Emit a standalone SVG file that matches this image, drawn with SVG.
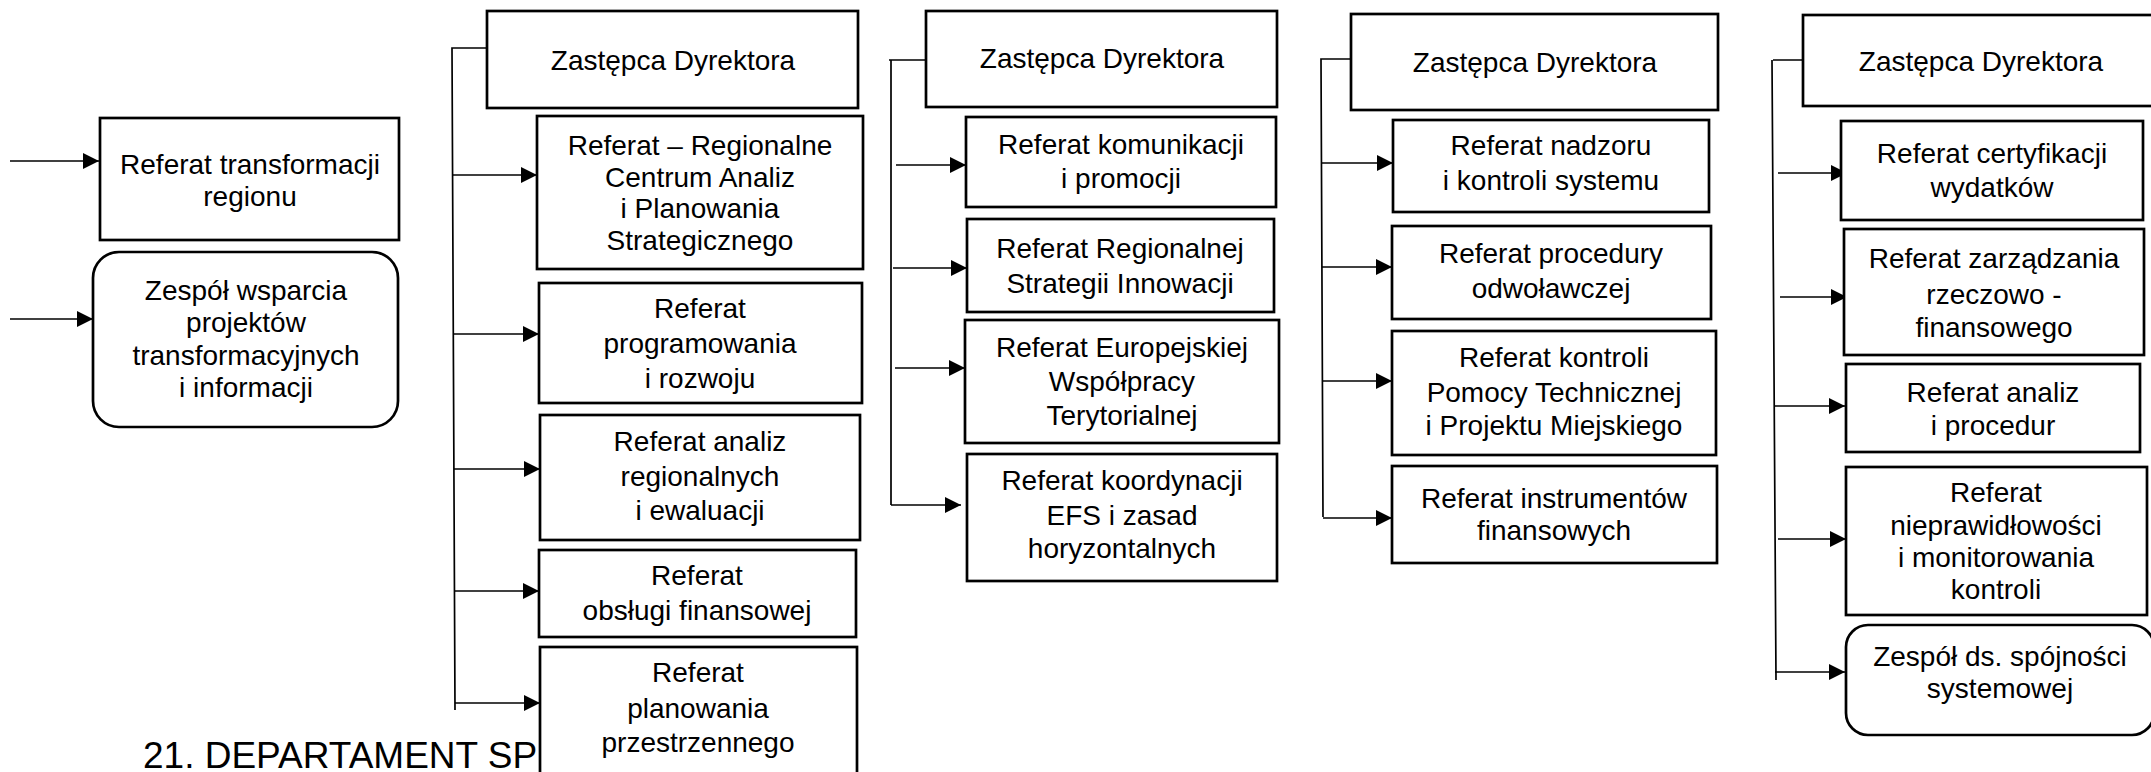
<svg xmlns="http://www.w3.org/2000/svg" width="2151" height="772" viewBox="0 0 2151 772">
<style>
.box{fill:#fff;stroke:#000;stroke-width:2.7}
.t{font-family:"Liberation Sans",Arial,sans-serif;font-size:28px;fill:#000;text-anchor:middle}
.title{font-family:"Liberation Sans",Arial,sans-serif;font-size:37px;fill:#000}
.c{fill:none;stroke:#000;stroke-width:1.7}
</style>
<defs>
<marker id="ah" markerUnits="userSpaceOnUse" markerWidth="18" markerHeight="18" refX="16" refY="8" orient="auto">
<path d="M0,0 L16,8 L0,16 Z" fill="#000"/>
</marker>
</defs>
<rect width="2151" height="772" fill="#fff"/>
<text class="title" x="143" y="768">21. DEPARTAMENT SP</text>
<g id="connectors">
<path class="c" d="M10,161 H99" marker-end="url(#ah)"/>
<path class="c" d="M10,319 H93" marker-end="url(#ah)"/>
<path class="c" d="M487,48 H452 L455,710"/>
<path class="c" d="M452,175 H537" marker-end="url(#ah)"/>
<path class="c" d="M453,334 H539" marker-end="url(#ah)"/>
<path class="c" d="M454,469 H540" marker-end="url(#ah)"/>
<path class="c" d="M455,591 H539" marker-end="url(#ah)"/>
<path class="c" d="M455,703 H540" marker-end="url(#ah)"/>
<path class="c" d="M926,60 H889 M891,60 V505"/>
<path class="c" d="M896,165 H966" marker-end="url(#ah)"/>
<path class="c" d="M893,268 H967" marker-end="url(#ah)"/>
<path class="c" d="M895,368 H965" marker-end="url(#ah)"/>
<path class="c" d="M891,505 H961" marker-end="url(#ah)"/>
<path class="c" d="M1351,59 H1321 L1323,517"/>
<path class="c" d="M1321,163 H1393" marker-end="url(#ah)"/>
<path class="c" d="M1322,267 H1392" marker-end="url(#ah)"/>
<path class="c" d="M1322,381 H1392" marker-end="url(#ah)"/>
<path class="c" d="M1323,518 H1392" marker-end="url(#ah)"/>
<path class="c" d="M1803,60 H1773 M1772,60 L1776,680"/>
<path class="c" d="M1778,173 H1847" marker-end="url(#ah)"/>
<path class="c" d="M1780,297 H1847" marker-end="url(#ah)"/>
<path class="c" d="M1775,406 H1845" marker-end="url(#ah)"/>
<path class="c" d="M1778,539 H1846" marker-end="url(#ah)"/>
<path class="c" d="M1775,672 H1845" marker-end="url(#ah)"/>
</g>
<g id="n-transformacji">
<rect class="box" x="100" y="118" width="299" height="122"/>
<text class="t"><tspan x="250" y="174">Referat transformacji</tspan><tspan x="250" y="206">regionu</tspan></text>
</g>
<g id="n-zespol-wsparcia">
<rect class="box" x="93" y="252" width="305" height="175" rx="26"/>
<text class="t"><tspan x="246" y="300">Zespół wsparcia</tspan><tspan x="246" y="332">projektów</tspan><tspan x="246" y="365">transformacyjnych</tspan><tspan x="246" y="397">i informacji</tspan></text>
</g>
<g id="n-zd1">
<rect class="box" x="487" y="11" width="371" height="97"/>
<text class="t" x="673" y="70">Zastępca Dyrektora</text>
</g>
<g id="n-rcaps">
<rect class="box" x="537" y="116" width="326" height="153"/>
<text class="t"><tspan x="700" y="155">Referat – Regionalne</tspan><tspan x="700" y="187">Centrum Analiz</tspan><tspan x="700" y="218">i Planowania</tspan><tspan x="700" y="250">Strategicznego</tspan></text>
</g>
<g id="n-programowania">
<rect class="box" x="539" y="283" width="323" height="120"/>
<text class="t"><tspan x="700" y="318">Referat</tspan><tspan x="700" y="353">programowania</tspan><tspan x="700" y="388">i rozwoju</tspan></text>
</g>
<g id="n-analiz-reg">
<rect class="box" x="540" y="415" width="320" height="125"/>
<text class="t"><tspan x="700" y="451">Referat analiz</tspan><tspan x="700" y="486">regionalnych</tspan><tspan x="700" y="520">i ewaluacji</tspan></text>
</g>
<g id="n-obslugi">
<rect class="box" x="539" y="550" width="317" height="87"/>
<text class="t"><tspan x="697" y="585">Referat</tspan><tspan x="697" y="620">obsługi finansowej</tspan></text>
</g>
<g id="n-planowania">
<rect class="box" x="540" y="647" width="317" height="140"/>
<text class="t"><tspan x="698" y="682">Referat</tspan><tspan x="698" y="718">planowania</tspan><tspan x="698" y="752">przestrzennego</tspan></text>
</g>
<g id="n-zd2">
<rect class="box" x="926" y="11" width="351" height="96"/>
<text class="t" x="1102" y="68">Zastępca Dyrektora</text>
</g>
<g id="n-komunikacji">
<rect class="box" x="966" y="117" width="310" height="90"/>
<text class="t"><tspan x="1121" y="154">Referat komunikacji</tspan><tspan x="1121" y="188">i promocji</tspan></text>
</g>
<g id="n-rsi">
<rect class="box" x="967" y="219" width="307" height="93"/>
<text class="t"><tspan x="1120" y="258">Referat Regionalnej</tspan><tspan x="1120" y="293">Strategii Innowacji</tspan></text>
</g>
<g id="n-ewt">
<rect class="box" x="965" y="320" width="314" height="123"/>
<text class="t"><tspan x="1122" y="357">Referat Europejskiej</tspan><tspan x="1122" y="391">Współpracy</tspan><tspan x="1122" y="425">Terytorialnej</tspan></text>
</g>
<g id="n-efs">
<rect class="box" x="967" y="454" width="310" height="127"/>
<text class="t"><tspan x="1122" y="490">Referat koordynacji</tspan><tspan x="1122" y="525">EFS i zasad</tspan><tspan x="1122" y="558">horyzontalnych</tspan></text>
</g>
<g id="n-zd3">
<rect class="box" x="1351" y="14" width="367" height="96"/>
<text class="t" x="1535" y="72">Zastępca Dyrektora</text>
</g>
<g id="n-nadzoru">
<rect class="box" x="1393" y="120" width="316" height="92"/>
<text class="t"><tspan x="1551" y="155">Referat nadzoru</tspan><tspan x="1551" y="190">i kontroli systemu</tspan></text>
</g>
<g id="n-procedury">
<rect class="box" x="1392" y="226" width="319" height="93"/>
<text class="t"><tspan x="1551" y="263">Referat procedury</tspan><tspan x="1551" y="298">odwoławczej</tspan></text>
</g>
<g id="n-pomocy">
<rect class="box" x="1392" y="331" width="324" height="124"/>
<text class="t"><tspan x="1554" y="367">Referat kontroli</tspan><tspan x="1554" y="402">Pomocy Technicznej</tspan><tspan x="1554" y="435">i Projektu Miejskiego</tspan></text>
</g>
<g id="n-instrumentow">
<rect class="box" x="1392" y="466" width="325" height="97"/>
<text class="t"><tspan x="1554" y="508">Referat instrumentów</tspan><tspan x="1554" y="540">finansowych</tspan></text>
</g>
<g id="n-zd4">
<rect class="box" x="1803" y="15" width="356" height="91"/>
<text class="t" x="1981" y="71">Zastępca Dyrektora</text>
</g>
<g id="n-certyfikacji">
<rect class="box" x="1841" y="121" width="302" height="99"/>
<text class="t"><tspan x="1992" y="163">Referat certyfikacji</tspan><tspan x="1992" y="197">wydatków</tspan></text>
</g>
<g id="n-zarzadzania">
<rect class="box" x="1844" y="229" width="300" height="126"/>
<text class="t"><tspan x="1994" y="268">Referat zarządzania</tspan><tspan x="1994" y="304">rzeczowo -</tspan><tspan x="1994" y="337">finansowego</tspan></text>
</g>
<g id="n-analiz-proc">
<rect class="box" x="1846" y="364" width="294" height="88"/>
<text class="t"><tspan x="1993" y="402">Referat analiz</tspan><tspan x="1993" y="435">i procedur</tspan></text>
</g>
<g id="n-nieprawidlowosci">
<rect class="box" x="1846" y="467" width="301" height="148"/>
<text class="t"><tspan x="1996" y="502">Referat</tspan><tspan x="1996" y="535">nieprawidłowości</tspan><tspan x="1996" y="567">i monitorowania</tspan><tspan x="1996" y="599">kontroli</tspan></text>
</g>
<g id="n-spojnosci">
<rect class="box" x="1846" y="625" width="308" height="110" rx="22"/>
<text class="t"><tspan x="2000" y="666">Zespół ds. spójności</tspan><tspan x="2000" y="698">systemowej</tspan></text>
</g>
</svg>
